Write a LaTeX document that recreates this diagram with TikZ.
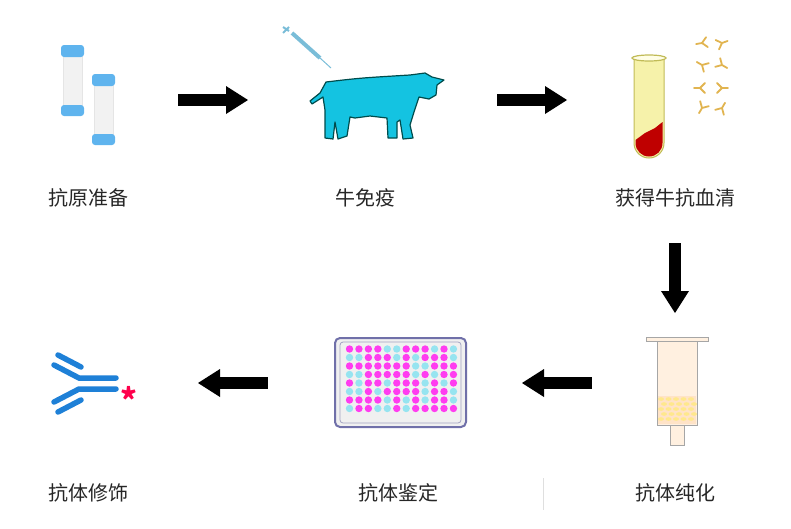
\documentclass[tikz,border=0pt]{standalone}
\usepackage{fontspec}
\setmainfont{Noto Sans CJK SC}
\definecolor{cowc}{RGB}{20,195,225}
\definecolor{abblue}{RGB}{30,128,215}
\definecolor{tubeb}{RGB}{95,180,238}
\definecolor{tan}{RGB}{225,180,80}
\definecolor{wm}{RGB}{255,60,240}
\definecolor{wc}{RGB}{150,228,240}
\begin{document}
\begin{tikzpicture}[x=1pt,y=-1pt,
  lbl/.style={font=\fontsize{20}{22}\selectfont, text=black!85},
  ab/.style={draw=#1, line width=1.8, line cap=round},
  blu/.style={draw=abblue, line width=5.5, line cap=round}]
\useasboundingbox (0,0) rectangle (791,528);
% tubes
\foreach \x/\y in {62/45,93/74}{
  \fill[gray!10, draw=gray!20] (\x+1,\y+6) rectangle (\x+20,\y+66);
  \fill[tubeb, rounded corners=3] (\x-1,\y) rectangle (\x+22,\y+12);
  \fill[tubeb, rounded corners=3] (\x-1,\y+60) rectangle (\x+22,\y+71);
}
% arrows
\fill (178,94) rectangle (226,106); \fill (226,86) -- (248,100) -- (226,114) -- cycle;
\fill (497,94) rectangle (545,106); \fill (545,86) -- (567,100) -- (545,114) -- cycle;
\fill (669,243) rectangle (681,291); \fill (661,291) -- (675,313) -- (689,291) -- cycle;
\fill (544,377) rectangle (592,389); \fill (544,369) -- (522,383) -- (544,397) -- cycle;
\fill (220,377) rectangle (268,389); \fill (220,369) -- (198,383) -- (220,397) -- cycle;
% syringe
\draw[cyan!50!teal!60, line width=4] (292,33) -- (320,58);
\draw[cyan!50!teal!60, line width=1] (320,58) -- (331,68);
\draw[cyan!50!teal!60, line width=2] (283,27) -- (289,31) (283,33) -- (289,27);
% cow
\filldraw[fill=cowc, draw=teal!60!black, line width=1.2, line join=round]
 (326,82) .. controls (360,78) .. (410,75) -- (425,73) -- (432,77) -- (444,80) -- (437,85) -- (436,95) -- (429,99) -- (419,97)
 -- (414,112) -- (410,125) -- (413,138) -- (403,139) -- (400,120) -- (397,122) -- (397,138) -- (388,138) -- (387,118)
 -- (370,116) -- (355,118) -- (350,117) -- (347,136) -- (338,139) -- (335,122) -- (333,139) -- (325,138) -- (325,110)
 -- (323,97) -- (312,104) -- (310,101) -- (320,93) -- cycle;
% test tube
\filldraw[fill=yellow!25!white!92!olive, draw=olive!55, line width=1]
 (634,60) -- (634,143) arc[start angle=180,end angle=0,radius=15] -- (664,60);
\fill[red!75!black] (635.5,140) -- (645,133) -- (655,128) -- (662.5,122) -- (662.5,143) arc[start angle=0,end angle=180,radius=13.5] -- cycle;
\draw[olive!55, line width=1.2, fill=yellow!10] (649,58) ellipse[x radius=17,y radius=3];
% antibodies small
\foreach \x/\y/\r in {702/43/10,722/43/200,702/65/-30,722/65/150,700/88/0,722/88/180,702/108/60,722/108/-120}{
  \begin{scope}[shift={(\x,\y)},rotate=\r]
   \draw[ab=tan] (-6,0) -- (0,0) -- (5,-5) (0,0) -- (5,5);
  \end{scope}}
% plate
\filldraw[fill=gray!12, draw=blue!25!gray!90, line width=2, rounded corners=5] (335,338) rectangle (466,427);
\draw[blue!20!gray!60, line width=0.8, rounded corners=3] (340,342) rectangle (461,423);
\foreach \r [count=\j from 0] in {
 {1,1,1,1,0,0,1,1,1,0,1,0},{0,0,1,1,1,0,1,0,1,1,1,0},{1,1,1,1,1,1,1,0,0,1,1,1},{0,0,1,1,1,1,1,0,1,0,1,1},
 {1,0,1,1,0,1,1,1,0,1,0,1},{0,0,1,0,1,1,1,1,0,1,1,0},{1,1,1,1,0,1,0,1,0,1,1,0},{0,1,1,0,0,1,0,1,1,1,1,1}}{
  \foreach \v [count=\i from 0] in \r {
    \ifnum\v=1 \fill[wm] (349.5+\i*9.45,349+\j*8.5) circle (3.7);
    \else \fill[wc] (349.5+\i*9.45,349+\j*8.5) circle (3.7);\fi
  }}
% column
\filldraw[fill=orange!12, draw=gray!70] (646,337) rectangle (708,341);
\filldraw[fill=orange!12, draw=gray!70] (657,341) rectangle (697,425);
\fill[orange!22] (658,396) rectangle (696,424);
\foreach \j in {0,...,4}{\foreach \i in {0,...,4}{
  \fill[orange!40!yellow!45] ({661+\i*7.5+mod(\j,2)*3},{399+\j*5}) ellipse[x radius=3,y radius=1.8];}}
\filldraw[fill=orange!12, draw=gray!70] (670,425) rectangle (684,445);
% antibody final
\draw[blu] (58,355) -- (81,367) (54,365) -- (79,378) -- (116,378);
\draw[blu] (54,402) -- (79,389) -- (116,389) (58,412) -- (81,400);
\node[text=red!70!magenta, font=\bfseries\fontsize{32}{32}\selectfont] (ast) at (129,399) {*};
\draw[gray!25, line width=0.5] (543,478) -- (543,510);
% labels
\node[lbl] (l1) at (88,198) {抗原准备};
\node[lbl] (l2) at (365,198) {牛免疫};
\node[lbl] (l3) at (675,198) {获得牛抗血清};
\node[lbl] (l4) at (88,493) {抗体修饰};
\node[lbl] (l5) at (398,493) {抗体鉴定};
\node[lbl] (l6) at (675,493) {抗体纯化};
\end{tikzpicture}
\end{document}
